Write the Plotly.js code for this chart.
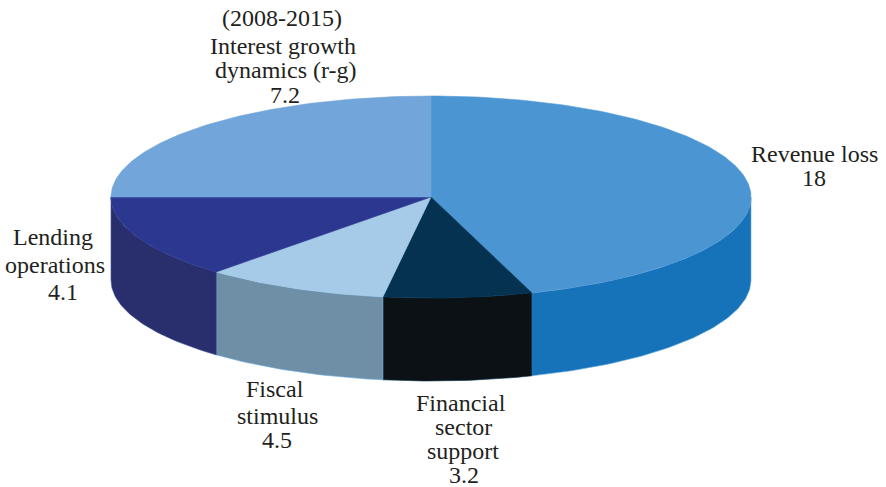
<!DOCTYPE html>
<html>
<head>
<meta charset="utf-8">
<script src="https://cdn.plot.ly/plotly-3.0.1.min.js"></script>
<style>html,body{margin:0;padding:0;background:#fff}#c{width:886px;height:487px}</style>
</head>
<body>
<div id="c"></div>
<script>
// Data
const categories = ["Revenue loss", "Financial sector support", "Fiscal stimulus", "Lending operations", "Interest growth dynamics (r-g)"];
const values = [18, 3.2, 4.5, 4.1, 7.2];
// Drawn slice shares (percent of the disc) as they appear in the picture
const drawnShares = [44.9, 7.5, 9.3, 13.3, 25.0];
const topColors = ["#4b95d3", "#053251", "#a5cbe8", "#2c3790", "#72a5da"];
const sideColors = ["#1773b9", "#0b1114", "#6f8fa6", "#282f6c", "#72a5da"];
const edgeColors = ["#6aaee0", "#053251", "#6aaee0", "#3f52a5", "#72a5da"];
const period = "(2008-2015)";
const labelLines = [["Revenue loss", "18"], ["Financial", "sector", "support", "3.2"], ["Fiscal", "stimulus", "4.5"], ["Lending", "operations", "4.1"], ["Interest growth", "dynamics (r-g)", "7.2"]];

// Geometry of the projected disc
const cx = 431, cy = 197, rx = 320, ry = 101, depth = 83;
// Label placement: centre x and baseline y of each text line
const periodPos = [282, 25];
const labelX = [[814, 814], [461, 463, 463, 464], [275, 277, 277], [53, 55, 63], [283, 285, 285]];
const labelBase = [[161, 185], [410, 434, 458, 482], [396, 423, 447], [244, 272, 299], [53, 77, 102]];
const baseToCentre = 7;

const rad = d => d * Math.PI / 180;
const px = a => cx + rx * Math.sin(rad(a));
const py = a => cy - ry * Math.cos(rad(a));

function arc(a0, a1) {
  const pts = [];
  const n = Math.max(2, Math.ceil(Math.abs(a1 - a0)));
  for (let i = 0; i <= n; i++) pts.push(a0 + (a1 - a0) * i / n);
  return pts;
}

const sideTraces = [], topTraces = [];
let start = 0;
drawnShares.forEach((s, i) => {
  const end = start + s * 3.6;
  const a = arc(start, end);
  topTraces.push({
    x: [cx, ...a.map(px), cx], y: [cy, ...a.map(py), cy],
    mode: "lines", fill: "toself", fillcolor: topColors[i],
    line: {color: topColors[i], width: 0.6},
    hoverinfo: "text", text: categories[i] + ": " + values[i], showlegend: false
  });
  const f0 = Math.max(start, 90), f1 = Math.min(end, 270);
  if (f1 > f0) {
    const b = arc(f0, f1);
    sideTraces.push({
      x: [...b.map(px), ...b.slice().reverse().map(px), px(f0)],
      y: [...b.map(py), ...b.slice().reverse().map(v => py(v) + depth), py(f0)],
      mode: "lines", fill: "toself", fillcolor: sideColors[i],
      line: {color: edgeColors[i], width: 0.6},
      hoverinfo: "text", text: categories[i] + ": " + values[i], showlegend: false
    });
  }
  start = end;
});

const textFont = {family: "Liberation Serif, Times New Roman, serif", size: 24, color: "#231f20"};
const annotations = [];
function addLine(t, x, base) {
  annotations.push({text: t, x: x, y: base - baseToCentre, xref: "x", yref: "y", showarrow: false, xanchor: "center", yanchor: "middle", font: textFont});
}
addLine(period, periodPos[0], periodPos[1]);
labelLines.forEach((lines, i) => {
  lines.forEach((t, j) => addLine(t, labelX[i][j], labelBase[i][j]));
});

Plotly.newPlot("c", [...sideTraces, ...topTraces], {
  width: 886, height: 487,
  margin: {l: 0, r: 0, t: 0, b: 0},
  paper_bgcolor: "#fff", plot_bgcolor: "#fff",
  xaxis: {range: [0, 886], visible: false, fixedrange: true},
  yaxis: {range: [487, 0], visible: false, fixedrange: true},
  annotations: annotations,
  showlegend: false
}, {displayModeBar: false, staticPlot: true});
</script>
</body>
</html>
